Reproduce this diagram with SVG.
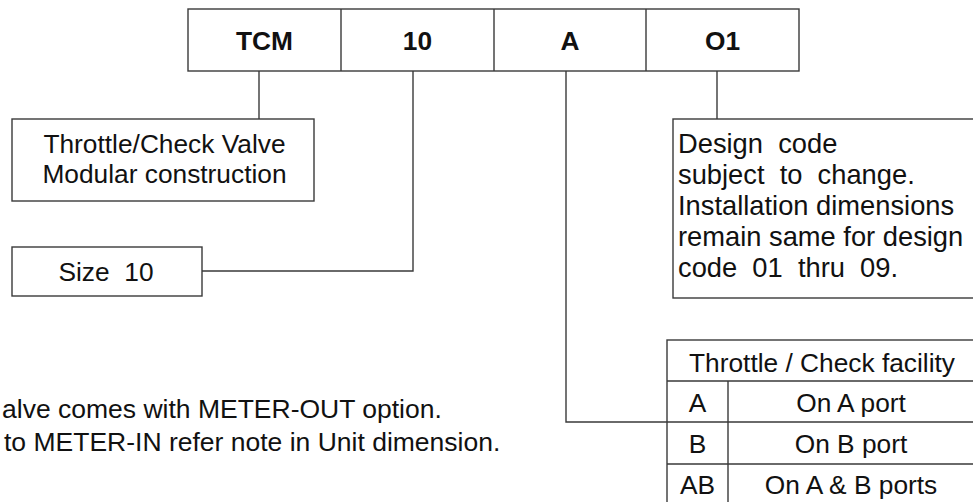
<svg xmlns="http://www.w3.org/2000/svg" width="973" height="502" viewBox="0 0 973 502">
<style>
.bx{fill:#fff;stroke:#3a3a3a;stroke-width:1.4}
.ln{fill:none;stroke:#3a3a3a;stroke-width:1.4}
.t{font-family:"Liberation Sans",Arial,sans-serif;font-size:26.3px;fill:#111;white-space:pre}
.c{text-anchor:middle}
.b{font-weight:bold;font-size:26.3px}
.d{font-size:27.3px}
.s{font-size:26.5px}
</style>
<rect width="973" height="502" fill="#fff"/>
<g id="code">
<rect class="bx" x="188" y="9" width="611" height="62"/>
<path class="ln" d="M341 9V71M494 9V71M646 9V71"/>
<text class="t c b" x="264.5" y="49.5">TCM</text>
<text class="t c b" x="417.5" y="49.5">10</text>
<text class="t c b" x="570" y="49.5">A</text>
<text class="t c b" x="722.5" y="49.5">O1</text>
</g>
<g id="connectors">
<path class="ln" d="M259 71V119"/>
<path class="ln" d="M413 71V271H202"/>
<path class="ln" d="M566 71V422H667"/>
<path class="ln" d="M717 71V119"/>
</g>
<g id="series">
<rect class="bx" x="12" y="119" width="302" height="82"/>
<text class="t c" x="164.5" y="152.5">Throttle/Check Valve</text>
<text class="t c" x="164.5" y="182.5">Modular construction</text>
</g>
<g id="size">
<rect class="bx" x="12" y="247" width="190" height="49"/>
<text class="t c" x="106" y="281">Size  10</text>
</g>
<g id="design">
<rect class="bx" x="673" y="119" width="320" height="179"/>
<text class="t d" x="678" y="153">Design  code</text>
<text class="t d" x="678" y="184">subject  to  change.</text>
<text class="t d" x="678" y="215">Installation dimensions</text>
<text class="t d" x="678" y="246">remain same for design</text>
<text class="t d" x="678" y="277">code  01  thru  09.</text>
</g>
<g id="facility">
<rect class="bx" x="667" y="340" width="320" height="170"/>
<path class="ln" d="M667 381H987M667 422H987M667 464H987M728 381V510"/>
<text class="t c" x="822" y="371.5">Throttle / Check facility</text>
<text class="t c" x="697.5" y="412">A</text>
<text class="t c" x="851" y="412">On A port</text>
<text class="t c" x="697.5" y="453">B</text>
<text class="t c" x="851" y="453">On B port</text>
<text class="t c" x="697.5" y="494">AB</text>
<text class="t c" x="851" y="494">On A &amp; B ports</text>
</g>
<g id="note">
<text class="t s" x="2" y="418">alve comes with METER-OUT option.</text>
<text class="t s" x="4" y="451">to METER-IN refer note in Unit dimension.</text>
</g>
</svg>
